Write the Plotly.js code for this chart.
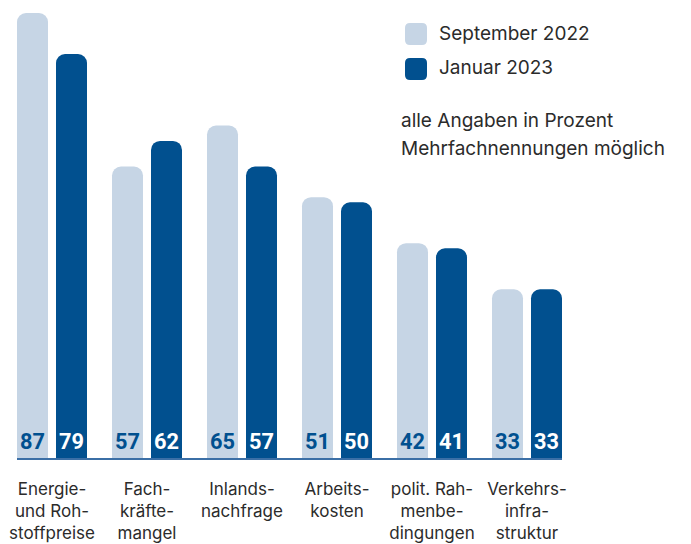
<!DOCTYPE html>
<html>
<head>
<meta charset="utf-8">
<script src="https://cdn.plot.ly/plotly-3.0.1.min.js"></script>
<style>html,body{margin:0;padding:0;background:#fff;}#chart{width:691px;height:544px;}</style>
</head>
<body>
<div id="chart"></div>
<script>
const categories = ["Energie-<br>und Roh-<br>stoffpreise", "Fach-<br>kräfte-<br>mangel", "Inlands-<br>nachfrage", "Arbeits-<br>kosten", "polit. Rah-<br>menbe-<br>dingungen", "Verkehrs-<br>infra-<br>struktur"];
const seriesNames = ["September 2022", "Januar 2023"];
const sep2022 = [87, 57, 65, 51, 42, 33];
const jan2023 = [79, 62, 57, 50, 41, 33];
const notes = ["alle Angaben in Prozent", "Mehrfachnennungen möglich"];

const LIGHT = "#c6d5e5";
const DARK = "#01508f";
const TEXT = "#2b2b2b";
const BODY_FONT = "Inter, 'Open Sans', sans-serif";
const NUM_FONT = "Roboto, 'Liberation Sans', sans-serif";

const idx = categories.map((_, i) => i);

const traces = [
  {
    type: "bar", name: seriesNames[0], x: idx, y: sep2022,
    marker: {color: LIGHT, cornerradius: 9},
    text: sep2022.map(String), textposition: "inside", insidetextanchor: "start",
    textangle: 0, constraintext: "none",
    insidetextfont: {family: NUM_FONT, size: 23, color: DARK, weight: 700},
    hoverinfo: "skip", showlegend: false
  },
  {
    type: "bar", name: seriesNames[1], x: idx, y: jan2023,
    marker: {color: DARK, cornerradius: 9},
    text: jan2023.map(String), textposition: "inside", insidetextanchor: "start",
    textangle: 0, constraintext: "none",
    insidetextfont: {family: NUM_FONT, size: 23, color: "#ffffff", weight: 700},
    hoverinfo: "skip", showlegend: false
  }
];

// plot area geometry (pixels)
const ML = 17, PW = 545, MT = 8, PH = 450;
const px2x = p => (p - ML) / PW;
const py2y = p => (MT + PH - p) / PH;

const sq = "M-11,-6 Q-11,-11 -6,-11 L6,-11 Q11,-11 11,-6 L11,6 Q11,11 6,11 L-6,11 Q-11,11 -11,6 Z";
const legendColors = [LIGHT, DARK];
const legendY = [34, 69];

const shapes = seriesNames.map((n, i) => ({
  type: "path", xref: "paper", yref: "paper",
  xsizemode: "pixel", ysizemode: "pixel",
  xanchor: px2x(416), yanchor: py2y(legendY[i]),
  path: sq, fillcolor: legendColors[i], line: {width: 0}
}));

const annotations = seriesNames.map((n, i) => ({
  xref: "paper", yref: "paper", x: px2x(437), y: py2y(legendY[i] - 1),
  xanchor: "left", yanchor: "middle", showarrow: false, text: n,
  font: {family: BODY_FONT, size: 19, color: TEXT}
})).concat(notes.map((n, i) => ({
  xref: "paper", yref: "paper", x: px2x(399), y: py2y(120 + 28 * i),
  xanchor: "left", yanchor: "middle", showarrow: false, text: n,
  font: {family: BODY_FONT, size: 19, color: TEXT}
})));

const layout = {
  width: 691, height: 544,
  margin: {l: ML, r: 691 - ML - PW, t: MT, b: 544 - MT - PH, pad: 0},
  paper_bgcolor: "#fff", plot_bgcolor: "#fff",
  barmode: "group", bargap: 0.179, bargroupgap: 0.205,
  xaxis: {
    range: [-0.3684, 5.3684], tickvals: idx, ticktext: categories,
    showgrid: false, zeroline: false, showline: true, linecolor: "#3b6fa6", linewidth: 1.5,
    ticks: "", ticklabelstandoff: 15,
    tickfont: {family: BODY_FONT, size: 17, color: TEXT}, fixedrange: true
  },
  yaxis: {
    range: [0, 88], showgrid: false, zeroline: false, showline: false,
    showticklabels: false, ticks: "", fixedrange: true
  },
  shapes: shapes,
  annotations: annotations,
  showlegend: false
};

Plotly.newPlot("chart", traces, layout, {displayModeBar: false, staticPlot: true});
</script>
</body>
</html>
